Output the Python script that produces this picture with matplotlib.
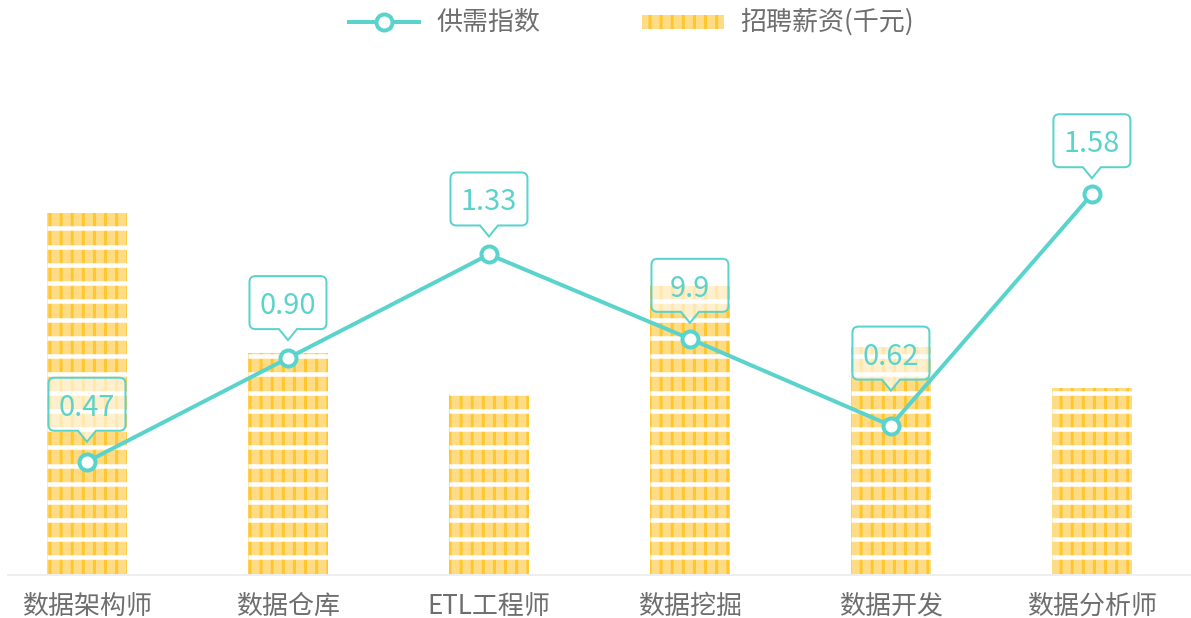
import matplotlib
matplotlib.use('Agg')
import matplotlib.pyplot as plt
import matplotlib.transforms as mtransforms
import numpy as np
from matplotlib.path import Path
from matplotlib.patches import PathPatch, Rectangle
from matplotlib.lines import Line2D

plt.rcParams['font.family'] = ['Noto Sans CJK SC', 'DejaVu Sans']

#- data
categories = ['数据架构师', '数据仓库', 'ETL工程师', '数据挖掘', '数据开发', '数据分析师']
salary = [12.4, 7.6, 6.2, 9.9, 7.8, 6.4]            # 招聘薪资(千元)
supply_index = [0.47, 0.90, 1.33, 0.98, 0.62, 1.58]  # 供需指数
index_labels = ['0.47', '0.90', '1.33', '9.9', '0.62', '1.58']
label_gap = [20, 18, 18, 16, 35, 16]                 # px between point and callout tip

DPI = 200
W, H = 1191, 618
def pt(px):
    return px * 72.0 / DPI

TEAL = '#5bd3cd'
LIGHT = '#fedc86'
DARK = '#ffc62d'
GREY = '#6e6e6e'
plt.rcParams['hatch.linewidth'] = pt(3)

fig = plt.figure(figsize=(W / DPI, H / DPI), dpi=DPI)
ax = fig.add_axes([8 / W, 43 / H, 1 - 8 / W, 515 / H])
ax2 = ax.twinx()

x = np.arange(len(categories))
ax.set_xlim(-0.393, 5.493)
ax.set_ylim(0, 515 / 29.2)
ax2.set_ylim(0, 515 / 241.0)

# striped bars
bw = 0.40
ax.bar(x, salary, width=bw, color=LIGHT, edgecolor=DARK, linewidth=0, hatch='|||', zorder=2)
period = 18.25 / 29.2
for xi, h in zip(x, salary):
    ys = np.arange(1, int(h / period) + 2) * period
    ys = ys[ys < h + period * 0.5]
    ax.hlines(ys, xi - bw / 2, xi + bw / 2, colors='white', lw=pt(4.5), capstyle='butt', zorder=3)

# line
ax2.plot(x, supply_index, color=TEAL, lw=pt(4), marker='o', ms=pt(16), mfc='white',
         mec=TEAL, mew=pt(4), zorder=5)

# callouts
def callout_path(w=77, h=53, r=6, pw=18, ph=11):
    hw = w / 2.0
    y0, y1 = ph, ph + h
    verts = [(0, 0), (pw / 2, y0), (hw - r, y0), (hw, y0), (hw, y0 + r), (hw, y1 - r), (hw, y1),
             (hw - r, y1), (-hw + r, y1), (-hw, y1), (-hw, y1 - r), (-hw, y0 + r), (-hw, y0),
             (-hw + r, y0), (-pw / 2, y0), (0, 0)]
    codes = [Path.MOVETO, Path.LINETO, Path.LINETO, Path.CURVE3, Path.CURVE3, Path.LINETO,
             Path.CURVE3, Path.CURVE3, Path.LINETO, Path.CURVE3, Path.CURVE3, Path.LINETO,
             Path.CURVE3, Path.CURVE3, Path.LINETO, Path.CLOSEPOLY]
    return Path(verts, codes)

cp = callout_path()
for xi, v, lbl, g in zip(x, supply_index, index_labels, label_gap):
    tr = mtransforms.Affine2D().translate(0, g) + mtransforms.ScaledTranslation(xi, v, ax2.transData)
    ax2.add_patch(PathPatch(cp, transform=tr, facecolor=(1, 1, 1, 0.6), edgecolor=TEAL,
                            lw=pt(2), zorder=6, clip_on=False))
    ax2.annotate(lbl, xy=(xi, v), xytext=(0, pt(g + 26)), textcoords='offset points',
                 ha='center', va='baseline', fontsize=pt(29), color=TEAL, zorder=7)

# axes styling
for s in ['top', 'left', 'right']:
    ax.spines[s].set_visible(False)
    ax2.spines[s].set_visible(False)
ax2.spines['bottom'].set_visible(False)
ax.spines['bottom'].set_color('#eeeeee')
ax.spines['bottom'].set_linewidth(pt(2))
ax.set_yticks([])
ax2.set_yticks([])
ax.set_xticks(x, categories)
ax.tick_params(axis='x', length=0, pad=pt(18), labelsize=pt(26), labelcolor=GREY)

# legend
def fx(px):
    return px / W
def fy(py):
    return 1 - py / H

fig.add_artist(Line2D([fx(349), fx(419)], [fy(22), fy(22)], transform=fig.transFigure,
                      color=TEAL, lw=pt(4)))
fig.add_artist(Line2D([fx(384)], [fy(22)], transform=fig.transFigure, marker='o', ms=pt(16),
                      mfc='white', mec=TEAL, mew=pt(4)))
fig.text(fx(436), fy(22), '供需指数', ha='left', va='center', fontsize=pt(26), color=GREY)
fig.add_artist(Rectangle((fx(642), fy(29)), fx(724) - fx(642), 14 / H, transform=fig.transFigure,
                         facecolor=LIGHT, edgecolor=DARK, linewidth=0, hatch='|||'))
fig.text(fx(740), fy(22), '招聘薪资(千元)', ha='left', va='center', fontsize=pt(26), color=GREY)

fig.savefig('out.png', dpi=DPI)
